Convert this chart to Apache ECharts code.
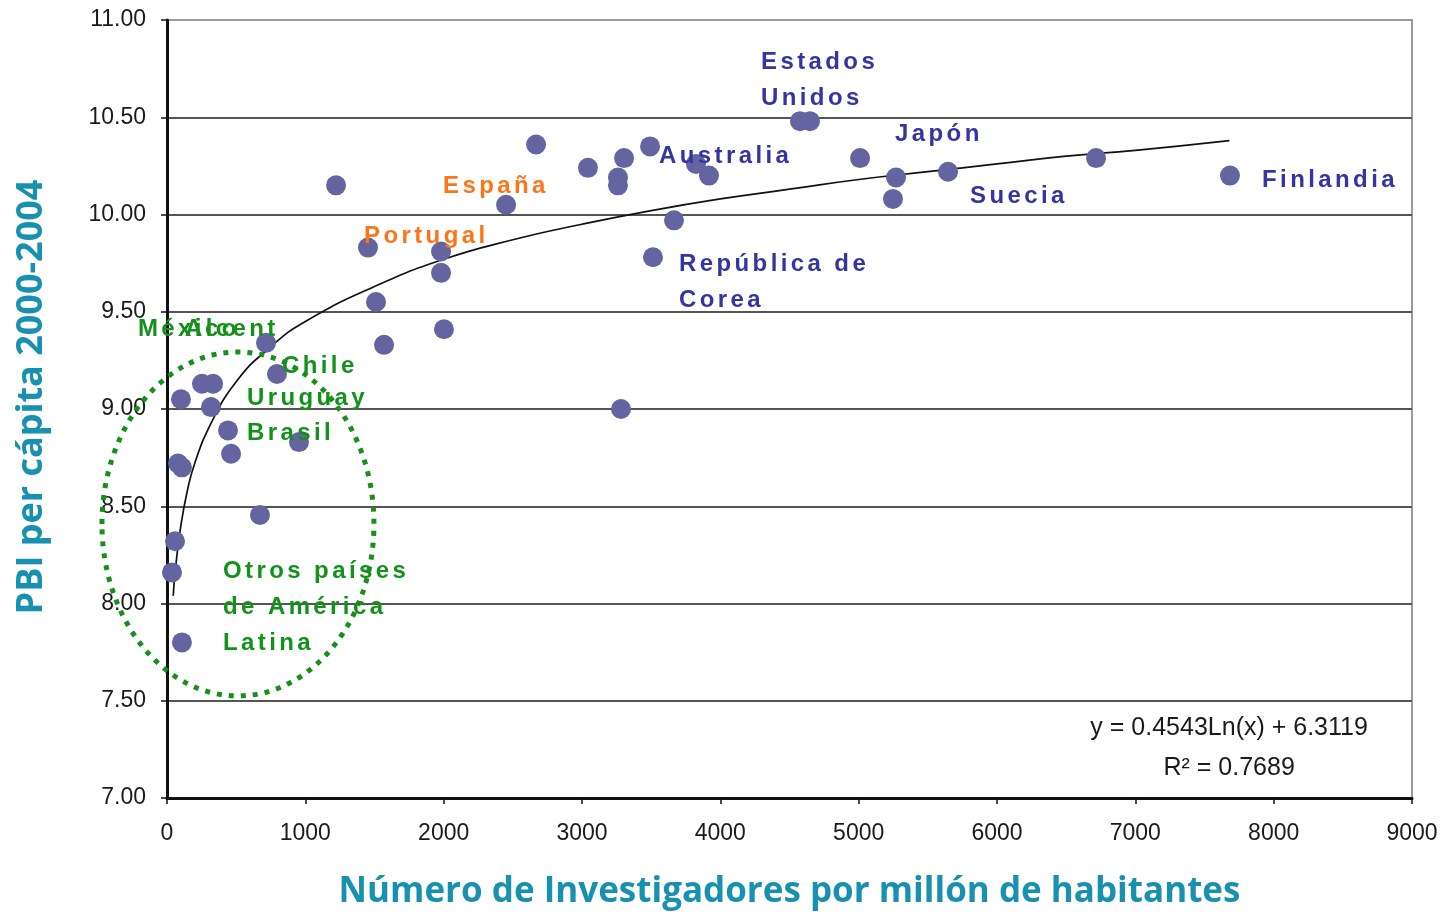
<!DOCTYPE html>
<html><head><meta charset="utf-8">
<script src="https://cdn.jsdelivr.net/npm/echarts@6/dist/echarts.min.js"></script>
<style>html,body{margin:0;padding:0;background:#fff}#c{width:1451px;height:916px}</style>
</head><body><div id="c"></div>
<script>
// Countries: [researchers per million, log GDP per capita]
const countryPoints = [
  [1222,10.15],[1453,9.83],[1511,9.55],[1569,9.33],[1981,9.81],[1981,9.70],[2002,9.41],
  [2451,10.05],[2668,10.36],[3043,10.24],[3260,10.19],[3260,10.15],[3304,10.29],[3492,10.35],
  [3282,9.00],[3513,9.78],[3665,9.97],[3824,10.26],[3918,10.20],[4576,10.48],[4648,10.48],
  [5010,10.29],[5270,10.19],[5248,10.08],[5646,10.22],[6716,10.29],[7684,10.20],
  [716,9.34],[795,9.18],[253,9.13],[333,9.13],[101,9.05],[318,9.01],[441,8.89],[463,8.77],
  [954,8.83],[80,8.72],[108,8.70],[672,8.455],[58,8.32],[36,8.16],[108,7.80]
];
// Logarithmic trend line
const trendX = [45,60,100,150,200,300,500,750,1000,1500,2000,2500,3000,3500,4000,4500,5000,5500,6000,6500,7000,7680];
const trendY = [8.04,8.17,8.40,8.59,8.72,8.90,9.14,9.32,9.45,9.63,9.77,9.87,9.95,10.02,10.08,10.13,10.18,10.22,10.26,10.30,10.33,10.38];
// Annotations: [x, y, text, colour group]
const labelItems = [
  [4294,10.69,'Estados\nUnidos','blue'],
  [5263,10.414,'Japón','blue'],
  [3557,10.30,'Australia','blue'],
  [7916,10.177,'Finlandia','blue'],
  [5805,10.095,'Suecia','blue'],
  [1995,10.147,'España','orange'],
  [1424,9.89,'Portugal','orange'],
  [3701,9.653,'República de\nCorea','blue'],
  [-210,9.41,'México','green'],
  [130,9.41,'Alcent','green'],
  [831,9.221,'Chile','green'],
  [578,9.057,'Uruguay','green'],
  [578,8.877,'Brasil','green'],
  [405,7.982,'Otros países\nde América\nLatina','green']
];
// Latin America circle: [centre x, centre y, radius x, radius y]
const ellipseData = [[513,8.409,983,0.884]];
const equationText = ['y = 0.4543Ln(x) + 6.3119','R² = 0.7689'];
const equationPos = [[7678,7.36],[7678,7.154]];
const yTicks = {min:7, max:11, interval:0.5};
const xTicks = {min:0, max:9000, interval:1000};

const labelColors = {blue:'#3434a2', orange:'#ff7418', green:'#12921a'};

// letter spacing for annotation labels
(function(){
  const P = CanvasRenderingContext2D.prototype;
  const of = P.fillText;
  P.fillText = function(t,x,y,m){
    if ('letterSpacing' in this) {
      this.letterSpacing = (this.font.indexOf('bold') >= 0 && this.font.indexOf('Liberation Sans') >= 0) ? '3.4px' : '0px';
    }
    return m === undefined ? of.call(this,t,x,y) : of.call(this,t,x,y,m);
  };
})();

const chart = echarts.init(document.getElementById('c'), null, {renderer:'canvas'});
chart.setOption({
  animation:false,
  backgroundColor:'#fff',
  grid:{left:167, right:39, top:20, bottom:118, show:true, borderColor:'#9a9a9a', borderWidth:2},
  xAxis:{
    type:'value', min:xTicks.min, max:xTicks.max, interval:xTicks.interval,
    axisLine:{show:true, onZero:false, lineStyle:{color:'#111', width:3}},
    axisTick:{show:true, length:6, lineStyle:{color:'#111', width:1.5}},
    splitLine:{show:false},
    axisLabel:{color:'#1a1a1a', fontSize:23, fontFamily:'Liberation Sans', margin:24,
      formatter:v=>String(v)},
    name:'Número de Investigadores por millón de habitantes',
    nameLocation:'middle', nameGap:77,
    nameTextStyle:{color:'#1890b0', fontSize:35, fontWeight:'bold', fontFamily:'Open Sans'}
  },
  yAxis:{
    type:'value', min:yTicks.min, max:yTicks.max, interval:yTicks.interval,
    axisLine:{show:true, onZero:false, lineStyle:{color:'#111', width:3}},
    axisTick:{show:true, length:6, lineStyle:{color:'#111', width:1.5}},
    splitLine:{show:true, lineStyle:{color:['#555','#555','#555','#555','#555','#555','#555','#555','#9a9a9a'], width:2}},
    axisLabel:{color:'#1a1a1a', fontSize:23, fontFamily:'Liberation Sans', margin:21,
      formatter:v=>v.toFixed(2)},
    name:'PBI per cápita 2000-2004',
    nameLocation:'middle', nameGap:117,
    nameTextStyle:{color:'#1890b0', fontSize:36, fontWeight:'bold', fontFamily:'Open Sans', padding:[0,0,0,24]}
  },
  series:[
    {
      type:'line', data:trendX.map((x,i)=>[x,trendY[i]]), smooth:true, showSymbol:false,
      lineStyle:{color:'#111', width:1.7}, z:3, silent:true
    },
    {
      type:'scatter', data:countryPoints, symbolSize:20,
      itemStyle:{color:'#6464a0', opacity:1}, z:4
    },
    {
      type:'custom', data:ellipseData, clip:false, z:5, silent:true,
      renderItem:function(params, api){
        const c = api.coord([api.value(0), api.value(1)]);
        const s = api.size([api.value(2), api.value(3)]);
        return {type:'ellipse', shape:{cx:c[0], cy:c[1], rx:s[0], ry:s[1]},
          style:{fill:null, stroke:'#17901a', lineWidth:5, lineDash:[5,7]}};
      }
    },
    {
      type:'scatter', clip:false, symbolSize:0, z:6, silent:true,
      itemStyle:{opacity:1},
      data:labelItems.map(d=>({value:[d[0],d[1]], name:d[2],
        label:{color:labelColors[d[3]]}})),
      label:{show:true, position:[0,0], align:'left', verticalAlign:'middle',
        formatter:p=>p.name, fontSize:24, fontWeight:'bold', fontFamily:'Liberation Sans', lineHeight:36}
    },
    {
      type:'scatter', clip:false, symbolSize:0, z:6, silent:true,
      itemStyle:{opacity:1},
      data:equationPos.map((p,i)=>({value:p, name:equationText[i]})),
      label:{show:true, position:[0,0], align:'center', verticalAlign:'middle',
        formatter:p=>p.name, fontSize:25, color:'#1a1a1a', fontFamily:'Liberation Sans'}
    }
  ]
});
</script></body></html>
